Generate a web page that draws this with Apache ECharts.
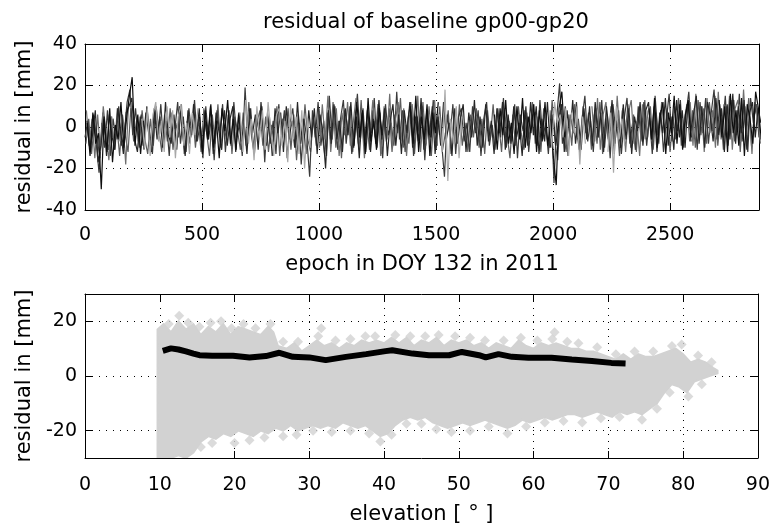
<!DOCTYPE html>
<html><head><meta charset="utf-8">
<script src="https://cdn.jsdelivr.net/npm/echarts@6/dist/echarts.min.js"></script>
<style>html,body{margin:0;padding:0;background:#fff}#c{width:773px;height:526px}</style>
</head><body><div id="c"></div>
<script>
// ---------- DATA ----------
const titleText = 'residual of baseline gp00-gp20';
const topXName = 'epoch in DOY 132 in 2011';
const botXName = 'elevation [ \u00b0 ]';
const yName = 'residual in [mm]';

const topXTicks = [0, 500, 1000, 1500, 2000, 2500];
const topYTicks = [-40, -20, 0, 20, 40];
const botXTicks = [0, 10, 20, 30, 40, 50, 60, 70, 80, 90];
const botYTicks = [-20, 0, 20];

const EPOCH_STEP = 12; // epochs between stored samples

// dark gray residual series (full day), sample index 0..240
const resDark = [
 -5,3,-12,6,-8,-22,2,-10,8,-14,4,-6,10,-9,-3,12,18,-4,9,-7,
 6,-11,10,-2,-13,8,-5,11,-9,3,-14,7,-1,12,-8,5,-12,9,-4,13,
 -7,2,-15,10,-6,4,-16,8,-3,11,-12,6,-9,12,-5,1,-14,19,-7,9,
 -11,5,-2,10,-17,7,-8,3,-13,11,-4,8,-15,2,9,-10,6,-18,4,-6,
 -24,8,-5,12,-9,3,-14,15,-6,10,-11,4,13,-8,6,-13,2,16,-7,9,
 -12,5,-3,14,-10,7,-15,11,-4,2,-9,17,-6,8,-12,4,12,-14,6,-2,
 10,-16,7,-5,13,-11,3,-8,-24,6,-4,11,-13,5,9,-7,2,-12,10,-3,
 8,-14,4,12,-9,1,-11,9,-5,14,-10,3,-7,11,-15,6,-2,10,-12,4,
 7,-9,13,-6,2,-13,8,-27,5,21,-8,10,-14,6,-3,12,-11,4,15,-7,
 3,-12,9,-5,13,-10,6,-15,11,-2,8,-13,4,14,-8,2,-11,10,-6,12,
 -9,5,-13,15,-4,8,-12,3,16,-7,10,-2,13,-10,6,17,-5,9,-11,12,
 -3,14,-8,7,18,-6,11,-1,15,-9,8,13,-4,16,-7,10,-12,14,2,11,
 -5
];
// gray residual series (full day)
const resGray = [
 -8,4,-13,2,-6,-15,7,-3,-11,5,-9,1,-14,6,-4,-12,9,-7,3,-10,
 8,-6,-13,4,-9,10,-2,-12,6,-7,9,-11,2,-5,11,-13,3,-8,7,-10,
 4,-12,9,-3,-14,6,-8,11,-10,2,-6,8,-13,5,-2,-11,7,-9,12,-5,
 -13,3,8,-9,5,-12,1,-7,10,-14,4,-4,9,-11,6,-16,2,-8,11,-6,
 -12,5,-9,9,-3,-13,7,-6,12,-10,3,-15,8,-4,10,-12,5,-8,13,-9,
 2,-11,8,-5,11,-14,4,-7,9,-12,6,-3,14,-10,1,-8,10,-13,5,-6,
 12,-9,3,-14,7,-4,10,-11,-3,8,-13,5,-7,11,-9,2,-12,6,-5,9,
 -10,4,-13,8,-6,11,-8,2,-12,9,-4,-15,6,-9,10,-3,-11,7,-6,12,
 -8,5,-12,9,-4,-10,13,-7,-16,8,-2,-12,6,-9,11,-5,-13,10,-3,7,
 -11,6,-8,12,-13,4,-6,10,-9,3,-14,8,-4,11,-10,6,-12,9,-7,13,
 -5,10,-11,7,-8,12,-3,9,-12,5,-6,14,-9,3,11,-7,8,-10,13,-4,
 9,-8,12,-2,15,-9,6,-11,10,-4,13,-7,8,-12,11,-3,14,-9,6,10,
 -6
];
// charcoal residual series (full day)
const resCharcoal = [
 3,-10,-4,8,-17,-9,4,-14,6,-5,-11,9,-2,-13,7,10,14,-6,-12,5,
 -9,7,-3,-12,9,-6,5,-10,12,-4,-8,6,-11,10,-2,-14,8,-5,11,-7,
 9,-10,3,-6,10,-13,7,-2,-11,8,-9,4,10,-12,6,-7,2,-13,9,-3,
 6,-11,12,-5,-9,5,-14,9,-3,7,-12,10,-6,3,-10,12,-8,4,-13,8,
 -5,9,-13,6,-2,-20,8,-8,11,-6,3,-12,9,-4,12,-10,5,-15,7,-7,
 10,-12,4,-8,13,-6,9,-14,3,11,-9,6,-13,8,-3,12,-10,5,-7,14,
 -11,7,-4,10,-13,5,-9,12,-6,2,-14,9,-8,4,11,-12,7,-5,13,-9,
 5,-10,11,-7,3,-13,9,-3,12,-11,6,-8,10,-5,2,-14,8,-9,12,-4,
 10,-13,4,-7,12,-10,6,-9,3,11,-12,8,-5,13,-8,4,-11,9,-6,10,
 -9,12,-5,7,-12,10,-3,13,-8,4,-10,11,-6,9,-13,5,-2,12,-9,8,
 12,-6,10,-12,7,-3,14,-9,5,-11,13,-5,8,-10,12,-2,6,15,-8,10,
 -10,12,5,-7,14,-4,9,-12,11,-6,16,-8,10,-3,13,-11,7,12,-5,9,
 2
];
// mid gray segments: start sample index + values
const resMid1Start = 0;   const resMid1 = [8,-9,4,-15,6,-12,10,-3,-16,5,-11,9,-7,3,-18,11];
const resMid2Start = 83;  const resMid2 = [-10,11,-6,15,-12,4,9,-14,7,-4,12,-9,2,14,-11,6,-15,8,-2,13,-8,5,-13,10,-6,16,-10,3,12,-7,9,-14,5,11,-3,15,-12,7,-8,10,-5,13,-9];
const resMid3Start = 180; const resMid3 = [10,-7,14,-11,6,12,-9,4,-13,15,-5,9,-12,7,13,-8,3,-14,11,-6,8];
const resMid4Start = 215; const resMid4 = [12,-9,16,-5,10,-12,14,-3,8,-10,17,-6,11,-2,15,-11,9,13,-7,18,-4,10,-13,12,6,-8];
// light gray segments
const resLight1Start = 20;  const resLight1 = [4,-10,9,-14,6,12,-7,3,-12,10,-5,8,-15,5,11,-9,2,-13,7,-4,9];
const resLight2Start = 55;  const resLight2 = [7,-12,13,-8,4,-16,10,-5,8,-11,12,-3,-14,6,9,-9,3,-17,11,-6,5,-13,8,-20,4,-10];
const resLight3Start = 126; const resLight3 = [6,-12,18,-26,4,-8,10,-15,5];
const resLight4Start = 165; const resLight4 = [8,-10,12,2,6,-5,9,-14,7,-3,10,-18,5,-8];
const resLight5Start = 186; const resLight5 = [-12,7,-22,10,-6,4,-9];
// black segments
const resBlack1Start = 0;   const resBlack1 = [2,-14,7,-8,-3,-30,5,-12,9,-17,1,-6,12,-10,4,15,24,-9,6,-13,3];
const resBlack2Start = 40;  const resBlack2 = [5,-13,8,-6,11,-10,3,-15,9,-2,13,-8,4,-11,7,-4];
const resBlack3Start = 95;  const resBlack3 = [-9,12,-5,8,-13,14,-7,3,-11,9,-4];
const resBlack4Start = 115; const resBlack4 = [10,-8,15,-12,5,-6,11,-14,7,-3,12];
const resBlack5Start = 145; const resBlack5 = [6,-11,9,-4,13,-8,2,-13,10,-6,14,-10,5,-3,11,-12,8,-7,12,-9,4,-15,-28,9,17,-5];
const resBlack6Start = 200; const resBlack6 = [9,-6,14,-10,5,12,-13,7,-3,15,-8,11,-11,6,13,-7];
const resBlack7Start = 225; const resBlack7 = [13,-5,10,-12,16,-3,8,-9,14,-14,11,4,-8,17,9,-6];

// bottom: envelope of the residual cloud vs elevation
const upperElev = [9.7,10.5,11.5,12.5,13.5,14.5,15.5,16.5,17.5,18.5,19.5,20.5,21.5,22.5,23.5,24.5,25.2,25.8,27,28,29,30,31,32,33,34,35,36,37,38,39,40,41,42,43,44,45,46,47,48,49,50,51,52,53,54,55,56,57,58,59,60,61,62,63,64,65,66,67,68,69,70,71,72,73,74,75,76,77,78,79,80,81,82,83,84,84.6];
const upperRes  = [17,19,16,20,17,19,15,18,16,19,15,18,17,16,15,18,16,11,10,12,9,11,13,11,12,10,12,11,13,12,13,12,14,12,14,11,13,12,14,11,13,12,13,11,12,10,12,11,10,13,11,10,12,11,12,11,10,10,9,9,8,7,6,8,6,8,7,7,8,9,10,8,5,6,5,3,2];
const lowerElev = [9.7,10.5,11.5,12.5,13.5,14.5,15.5,16.5,17.5,18.5,19.5,20.5,21.5,22.5,23.5,24.5,25.5,26.5,27.5,28.5,29.5,30.5,31.5,32.5,33.5,34.5,35.5,36.5,37.5,38.5,39.5,40.5,41.5,42.5,43.5,44.5,45.5,46.5,47.5,48.5,49.5,50.5,51.5,52.5,53.5,54.5,55.5,56.5,57.5,58.5,59.5,60.5,61.5,62.5,63.5,64.5,65.5,66.5,67.5,68.5,69.5,70.5,71.5,72.5,73.5,74.5,75.5,76.5,77.5,78.5,79.5,80.5,81.5,82.5,83.5,84.6];
const lowerRes  = [-30,-30,-30,-29,-30,-28,-24,-22,-23,-21,-22,-20,-21,-22,-20,-21,-19,-20,-18,-20,-19,-18,-19,-18,-19,-17,-18,-19,-18,-20,-22,-21,-18,-16,-15,-16,-15,-17,-18,-19,-18,-17,-18,-17,-16,-17,-18,-19,-18,-16,-17,-16,-15,-16,-15,-14,-14,-15,-14,-13,-14,-15,-13,-14,-13,-14,-12,-10,-6,-3,-4,-6,-2,-1,0,1];
// individual points on the cloud edge (elevation, residual)
const outlierElev = [11.2,12.6,13.8,15.3,16.8,18.2,19.6,21.2,22.8,24.8,26.5,28.5,31.2,31.6,33.5,35.5,37.5,38.8,41.5,43.5,45.5,47.3,49.5,51.5,53.5,56,58.3,60.5,62.5,62.8,64.5,66,68.5,71,73.5,76,78.5,79.8,82,83.8,
                     15.5,17,20,22,24,26.5,28.3,30.5,33,35.5,38,39.5,41,43,45,47,49,51.5,54,56.5,59,61.5,64,66.5,69,71.5,74.5,76.5,78.2,80.7,82.5];
const outlierRes  = [19,22,19.5,18,19.5,20,17.5,19,17.5,19,12.5,12.5,14.5,17.5,13,13.5,14.5,14.5,15,14.5,14.5,15,14.5,14,13,13,14,13,13.5,16,12.5,12,10.5,8,9,9,11,11.5,7.5,5,
                     -26,-24.5,-24.5,-23.5,-22.5,-22,-21.5,-20,-20.5,-20,-21,-24,-21.5,-17.5,-17.5,-19.5,-20.5,-20,-18.5,-21,-18.5,-17,-16.5,-17,-15.5,-15,-16,-12,-6,-7.5,-3];
// mean residual per elevation bin
const meanElev = [10.4,11.5,12.5,13.5,14.5,15.3,17,19.8,22,24.2,26,27.8,30,32.2,34.9,37.6,40.2,41.1,43.8,46,48.7,50.4,52.7,53.6,55.3,57.1,59.3,62.4,65.1,67.8,70.4,72.3];
const meanRes  = [9.2,10.1,9.7,9.0,8.2,7.6,7.4,7.4,6.8,7.3,8.5,7.0,6.8,5.8,7.0,8.0,9.1,9.4,8.2,7.6,7.6,8.8,7.6,6.8,8.0,7.0,6.7,6.7,6.0,5.5,4.8,4.6];

// ---------- CHART ----------
const FONT = 'DejaVu Sans';
const FS_TICK = 19;
const FS_NAME = 21;
const chart = echarts.init(document.getElementById('c'), null, {renderer: 'canvas'});

function pairs(start, vals, off) { off = off || 0; return vals.map((v, k) => [(start + k + off) * EPOCH_STEP, v]); }
function zip(xs, ys) { return xs.map((x, k) => [x, ys[k]]); }

const dotted = {color: '#000', width: 1, type: [1, 6]};
const lbl = {color: '#000', fontFamily: FONT, fontSize: FS_TICK, formatter: v => String(v)};

function mainAxis(o) {
  return Object.assign({
    type: 'value',
    axisLine: {show: true, onZero: false, lineStyle: {color: '#000', width: 1}},
    axisTick: {show: true, inside: true, length: 7, lineStyle: {color: '#000'}, customValues: o.ticks},
    axisLabel: Object.assign({customValues: o.ticks}, lbl, o.labelExtra || {}),
    splitLine: {show: true, lineStyle: dotted},
    nameTextStyle: {color: '#000', fontFamily: FONT, fontSize: FS_NAME},
    nameLocation: 'middle'
  }, o.rest);
}
function mirrorAxis(o) {
  return Object.assign({
    type: 'value',
    axisLine: {show: true, onZero: false, lineStyle: {color: '#000', width: 1}},
    axisTick: {show: true, inside: true, length: 7, lineStyle: {color: '#000'}, customValues: o.ticks},
    axisLabel: {show: false},
    splitLine: {show: false}
  }, o.rest);
}

const series = [];
function addLine(data, color) {
  series.push({type: 'line', xAxisIndex: 0, yAxisIndex: 0, data: data, showSymbol: false, symbol: 'none',
    lineStyle: {color: color, width: 1.2}, animation: false, silent: true, clip: true});
}
const cGray = '#5c5c5c', cDark = '#3a3a3a', cCharcoal = '#262626', cMid = '#6e6e6e', cLight = '#a8a8a8', cBlack = '#0e0e0e';
addLine(pairs(0, resGray, 0.33), cGray);
addLine(pairs(0, resDark), cDark);
[[resMid1Start,resMid1],[resMid2Start,resMid2],[resMid3Start,resMid3],[resMid4Start,resMid4]].forEach(s => addLine(pairs(s[0], s[1], 0.5), cMid));
addLine(pairs(0, resCharcoal, 0.67), cCharcoal);
[[resBlack1Start,resBlack1],[resBlack2Start,resBlack2],[resBlack3Start,resBlack3],[resBlack4Start,resBlack4],[resBlack5Start,resBlack5],[resBlack6Start,resBlack6],[resBlack7Start,resBlack7]].forEach(s => addLine(pairs(s[0], s[1], 0.8), cBlack));
[[resLight1Start,resLight1],[resLight2Start,resLight2],[resLight3Start,resLight3],[resLight4Start,resLight4],[resLight5Start,resLight5]].forEach(s => addLine(pairs(s[0], s[1], 0.2), cLight));

const cloudColor = '#d2d2d2';
const upperPts = zip(upperElev, upperRes);
const lowerPts = zip(lowerElev, lowerRes);
series.push({
  type: 'custom', xAxisIndex: 2, yAxisIndex: 2, data: [[0, 0]], animation: false, silent: true, clip: true,
  renderItem: function (params, api) {
    const pts = upperPts.map(p => api.coord(p)).concat(lowerPts.slice().reverse().map(p => api.coord(p)));
    return {type: 'polygon', shape: {points: pts}, style: {fill: cloudColor, stroke: cloudColor, lineWidth: 2}};
  }
});
series.push({type: 'scatter', xAxisIndex: 2, yAxisIndex: 2, data: zip(outlierElev, outlierRes), symbol: 'diamond',
  symbolSize: 10, itemStyle: {color: cloudColor}, animation: false, silent: true, clip: true});
series.push({type: 'line', xAxisIndex: 2, yAxisIndex: 2, data: zip(meanElev, meanRes), showSymbol: false, symbol: 'none',
  lineStyle: {color: '#000', width: 6}, animation: false, silent: true});

const option = {
  backgroundColor: '#fff',
  animation: false,
  title: {text: titleText, left: 421, top: 7, textAlign: 'center',
    textStyle: {color: '#000', fontFamily: FONT, fontSize: FS_NAME, fontWeight: 'normal'}},
  grid: [
    {left: 85, right: 14, top: 44, height: 166, containLabel: false},
    {left: 85, right: 14, top: 294, height: 165, containLabel: false}
  ],
  xAxis: [
    mainAxis({ticks: topXTicks, labelExtra: {margin: 16}, rest: {gridIndex: 0, position: 'bottom', min: 0, max: 2880, interval: 500, name: topXName, nameGap: 44}}),
    mirrorAxis({ticks: topXTicks, rest: {gridIndex: 0, position: 'top', min: 0, max: 2880, interval: 500}}),
    mainAxis({ticks: botXTicks, labelExtra: {margin: 18}, rest: {gridIndex: 1, position: 'bottom', min: 0, max: 90, interval: 10, name: botXName, nameGap: 46}}),
    mirrorAxis({ticks: botXTicks, rest: {gridIndex: 1, position: 'top', min: 0, max: 90, interval: 10}})
  ],
  yAxis: [
    mainAxis({ticks: topYTicks, labelExtra: {margin: 8}, rest: {gridIndex: 0, position: 'left', min: -40, max: 40, interval: 20, name: yName, nameGap: 50}}),
    mirrorAxis({ticks: topYTicks, rest: {gridIndex: 0, position: 'right', min: -40, max: 40, interval: 20}}),
    mainAxis({ticks: botYTicks, labelExtra: {margin: 8}, rest: {gridIndex: 1, position: 'left', min: -30, max: 30, name: yName, nameGap: 50}}),
    mirrorAxis({ticks: botYTicks, rest: {gridIndex: 1, position: 'right', min: -30, max: 30}})
  ],
  series: series
};
chart.setOption(option);
</script></body></html>
